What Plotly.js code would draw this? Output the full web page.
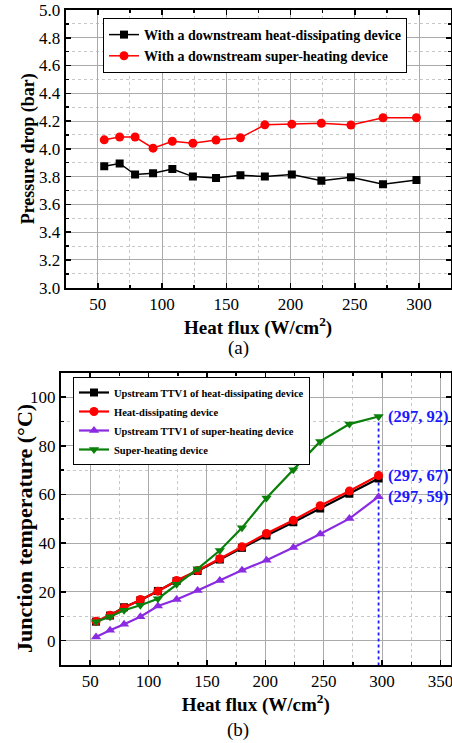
<!DOCTYPE html>
<html>
<head>
<meta charset="utf-8">
<script src="https://cdn.plot.ly/plotly-3.0.1.min.js"></script>
<style>html,body{margin:0;padding:0;background:#fff;}#chart{width:452px;height:743px;}</style>
</head>
<body>
<div id="chart"></div>
<script>
// (a) Pressure drop
const fluxA = [55, 67, 79, 93, 108, 124, 142, 161, 180, 201, 224, 247, 272, 298];
const dpHeatDiss = [3.875, 3.895, 3.815, 3.825, 3.855, 3.80, 3.79, 3.81, 3.80, 3.815, 3.77, 3.795, 3.745, 3.775];
const dpSuperHeat = [4.065, 4.085, 4.085, 4.005, 4.055, 4.04, 4.063, 4.08, 4.173, 4.178, 4.184, 4.172, 4.224, 4.224];

// (b) Junction temperature
const fluxB = [55, 67, 79, 93, 108, 124, 142, 161, 180, 201, 224, 247, 272, 297];
const tUpHeatDiss = [7.8, 10.3, 13.7, 16.6, 20.4, 24.5, 28.6, 33.3, 38.1, 43.2, 48.6, 54.2, 60.3, 66.6];
const tHeatDiss = [8.0, 10.4, 13.5, 16.9, 20.3, 24.7, 28.8, 33.6, 38.5, 44.0, 49.4, 55.4, 61.4, 67.8];
const tUpSuperHeat = [1.5, 4.3, 6.7, 9.8, 14.2, 16.9, 20.6, 24.7, 28.9, 33.0, 38.2, 43.8, 50.1, 59.1];
const tSuperHeat = [7.8, 9.8, 12.5, 14.5, 17.2, 23.1, 29.5, 37.0, 46.3, 58.6, 70.2, 81.8, 88.9, 92.0];

const markX = [297, 297];
const markY = [92, -10];
const annX = [297, 297, 297];
const annText = ['(297, 92)', '(297, 67)', '(297, 59)'];
const annYPlot = [tSuperHeat[13], tHeatDiss[13], tUpSuperHeat[13]];

const serif = 'Liberation Serif, Times New Roman, serif';
const blue = '#1a1aff';

const traces = [
  {x: fluxA, y: dpHeatDiss, xaxis: 'x', yaxis: 'y', mode: 'lines+markers', name: 'With a downstream heat-dissipating device',
   line: {color: '#000', width: 1.5}, marker: {symbol: 'square', size: 8, color: '#000'}, legend: 'legend'},
  {x: fluxA, y: dpSuperHeat, xaxis: 'x', yaxis: 'y', mode: 'lines+markers', name: 'With a downstream super-heating device',
   line: {color: '#ff0000', width: 1.5}, marker: {symbol: 'circle', size: 9, color: '#ff0000'}, legend: 'legend'},
  {x: markX, y: markY, xaxis: 'x2', yaxis: 'y2', mode: 'lines', showlegend: false, hoverinfo: 'skip',
   line: {color: blue, width: 1.8, dash: 'dot'}},
  {x: fluxB, y: tUpHeatDiss, xaxis: 'x2', yaxis: 'y2', mode: 'lines+markers', name: 'Upstream TTV1 of heat-dissipating device',
   line: {color: '#000', width: 2.2}, marker: {symbol: 'square', size: 8, color: '#000'}, legend: 'legend2'},
  {x: fluxB, y: tHeatDiss, xaxis: 'x2', yaxis: 'y2', mode: 'lines+markers', name: 'Heat-dissipating device',
   line: {color: '#ff0000', width: 2.2}, marker: {symbol: 'circle', size: 9, color: '#ff0000'}, legend: 'legend2'},
  {x: fluxB, y: tUpSuperHeat, xaxis: 'x2', yaxis: 'y2', mode: 'lines+markers', name: 'Upstream TTV1 of super-heating device',
   line: {color: '#8a2be2', width: 2.2}, marker: {symbol: 'triangle-up', size: 9, color: '#8a2be2'}, legend: 'legend2'},
  {x: fluxB, y: tSuperHeat, xaxis: 'x2', yaxis: 'y2', mode: 'lines+markers', name: 'Super-heating device',
   line: {color: '#0a800a', width: 2.2}, marker: {symbol: 'triangle-down', size: 9, color: '#0a800a'}, legend: 'legend2'}
];

function minorCfg(dt) {
  return {dtick: dt, ticks: 'inside', ticklen: 3, tickcolor: '#000', showgrid: true, gridcolor: '#c8c8c8', griddash: 'dot', gridwidth: 1};
}
function axisCommon(extra) {
  return Object.assign({
    showline: true, linecolor: '#000', linewidth: 2, mirror: 'allticks',
    ticks: 'inside', ticklen: 5, tickwidth: 1.5, tickcolor: '#000',
    showgrid: true, gridcolor: '#aaaaaa', gridwidth: 1, zeroline: false,
    ticklabeloverflow: 'allow',
    tickfont: {family: serif, size: 17, color: '#000'}
  }, extra);
}

const W = 452, H = 743;
const layout = {
  width: W, height: H,
  margin: {l: 0, r: 0, t: 0, b: 0},
  paper_bgcolor: '#fff', plot_bgcolor: '#fff',
  font: {family: serif, color: '#000'},
  showlegend: true,
  xaxis: axisCommon({domain: [65.7 / W, 450.5 / W], range: [25, 324.5], dtick: 50, tick0: 0, anchor: 'y', minor: minorCfg(25),
    title: {text: '<b>Heat flux (W/cm<sup>2</sup>)</b>', font: {family: serif, size: 19, color: '#000'}, standoff: 0}}),
  yaxis: axisCommon({domain: [(H - 287.7) / H, (H - 10) / H], range: [3.0, 5.0], dtick: 0.2, tickformat: '.1f', anchor: 'x', minor: minorCfg(0.1),
    title: {text: '<b>Pressure drop (bar)</b>', font: {family: serif, size: 18, color: '#000'}, standoff: 0}}),
  xaxis2: axisCommon({domain: [61 / W, 450.5 / W], range: [25, 358.6], dtick: 50, tick0: 0, anchor: 'y2', minor: minorCfg(25),
    title: {text: '<b>Heat flux (W/cm<sup>2</sup>)</b>', font: {family: serif, size: 19, color: '#000'}, standoff: 4}}),
  yaxis2: axisCommon({domain: [(H - 665) / H, (H - 372.7) / H], range: [-10, 110], dtick: 20, tick0: 0, anchor: 'x2', minor: minorCfg(10)}),
  legend: {x: 103 / W, y: (H - 18) / H, xanchor: 'left', yanchor: 'top', bgcolor: '#fff', bordercolor: '#000', borderwidth: 1,
    font: {family: serif, size: 14, color: '#000', weight: 'bold'}, tracegroupgap: 0, itemwidth: 30},
  legend2: {x: 73 / W, y: (H - 377) / H, xanchor: 'left', yanchor: 'top', bgcolor: '#fff', bordercolor: '#000', borderwidth: 1,
    font: {family: serif, size: 10.5, color: '#000', weight: 'bold'}, tracegroupgap: 0, itemwidth: 30},
  annotations: [
    {text: '<b>Junction temperature (°C)</b>', xref: 'paper', yref: 'paper', x: 24 / W, y: (H - 529) / H, xanchor: 'center', yanchor: 'middle',
     textangle: -90, showarrow: false, font: {family: serif, size: 22, color: '#000'}},
    {text: '(a)', xref: 'paper', yref: 'paper', x: 238 / W, y: (H - 348) / H, xanchor: 'center', yanchor: 'middle', showarrow: false,
     font: {family: serif, size: 19, color: '#000'}},
    {text: '(b)', xref: 'paper', yref: 'paper', x: 238 / W, y: (H - 730) / H, xanchor: 'center', yanchor: 'middle', showarrow: false,
     font: {family: serif, size: 19, color: '#000'}}
  ].concat(annX.map((xv, i) => ({
    text: '<b>' + annText[i] + '</b>', xref: 'x2', yref: 'y2', x: xv, y: annYPlot[i], xanchor: 'left', yanchor: 'middle',
    xshift: 7, showarrow: false, font: {family: serif, size: 16.5, color: blue}
  })))
};

Plotly.newPlot('chart', traces, layout, {displayModeBar: false, staticPlot: true});
</script>
</body>
</html>
